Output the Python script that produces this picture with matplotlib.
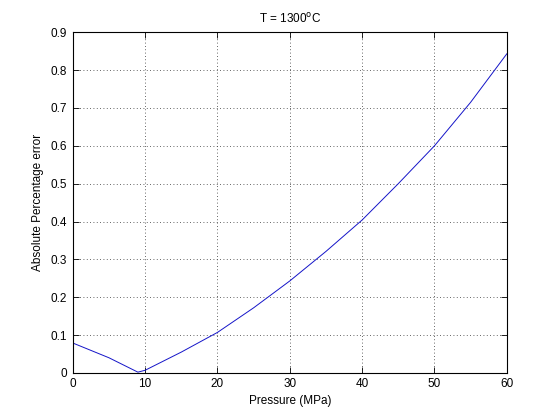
import matplotlib
matplotlib.use('Agg')
import matplotlib.pyplot as plt

pressure = [0, 5, 9, 10, 15, 20, 25, 30, 35, 40, 45, 50, 55, 60]
error = [0.079, 0.040, 0.002, 0.007, 0.055, 0.107, 0.172, 0.243, 0.321, 0.404, 0.500, 0.600, 0.715, 0.843]

plt.rcParams['font.family'] = ['Liberation Sans', 'DejaVu Sans']
plt.rcParams['font.size'] = 8.5

fig = plt.figure(figsize=(5.6, 4.19), dpi=100)
ax = fig.add_axes([0.13, 0.11, 0.775, 0.813])
ax.plot(pressure, error, color='#1414c8', linewidth=0.7)
ax.set_xlim(0, 60)
ax.set_ylim(0, 0.9)
ax.set_xticks(range(0, 61, 10))
ax.set_yticks([i / 10 for i in range(10)])
ax.set_yticklabels(['0'] + ['%.1f' % (i / 10) for i in range(1, 10)])
ax.grid(True, color='#333333', linestyle=(0, (1, 3)), linewidth=0.6)
ax.tick_params(direction='in', top=True, right=True, length=4, width=0.6, pad=4)
for s in ax.spines.values():
    s.set_linewidth(0.8)
ax.set_xlabel('Pressure (MPa)', labelpad=3)
ax.set_ylabel('Absolute Percentage error', labelpad=5)
ax.set_title('T = 1300$^{\\mathrm{o}}$C', fontsize=8.5, pad=7)
fig.savefig('out.png', dpi=100)
